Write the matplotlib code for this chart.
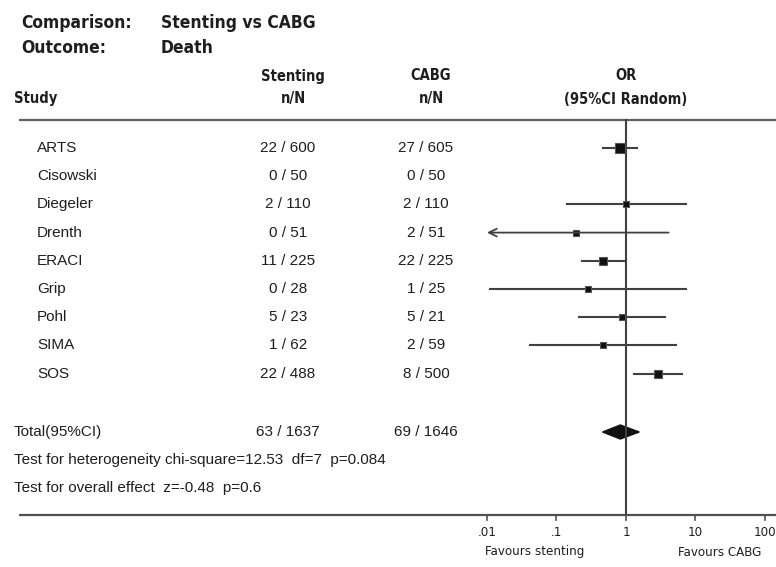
import numpy as np
import matplotlib.pyplot as plt
from matplotlib.transforms import blended_transform_factory
from matplotlib.patches import Polygon

## Data
studies = ["ARTS", "Cisowski", "Diegeler", "Drenth", "ERACI", "Grip", "Pohl", "SIMA", "SOS"]
stent_nN = ["22 / 600", "0 / 50", "2 / 110", "0 / 51", "11 / 225", "0 / 28", "5 / 23", "1 / 62", "22 / 488"]
cabg_nN = ["27 / 605", "0 / 50", "2 / 110", "2 / 51", "22 / 225", "1 / 25", "5 / 21", "2 / 59", "8 / 500"]

# Odds ratios with 95% CI (None = not estimable)
odds = [0.81, None, 1.00, 0.19, 0.47, 0.28, 0.87, 0.46, 2.90]
ci_low = [0.46, None, 0.14, 0.009, 0.23, 0.011, 0.21, 0.041, 1.32]
ci_high = [1.46, None, 7.2, 4.10, 1.00, 7.4, 3.70, 5.30, 6.40]
weights = [28.0, 0.0, 8.0, 7.5, 17.0, 7.5, 9.0, 6.0, 17.0]

total_or = 0.83
total_lo = 0.46
total_hi = 1.55
total_stent = "63 / 1637"
total_cabg = "69 / 1646"

heterogeneity = "Test for heterogeneity chi-square=12.53  df=7  p=0.084"
overall = "Test for overall effect  z=-0.48  p=0.6"

ticks = [0.01, 0.1, 1, 10, 100]
tick_labels = [".01", ".1", "1", "10", "100"]

## Layout
W, H = 776, 567
row_px = 28.2
first_px = 148

plt.rcParams['font.family'] = ['Liberation Sans', 'DejaVu Sans']
cond = dict(family='DejaVu Sans', stretch='condensed')

fig = plt.figure(figsize=(W / 100, H / 100), dpi=100)
ax = fig.add_axes([0, 0, 1, 1])
ax.set_xscale('log')
ax.set_xlim(10 ** (-2 - 487 / 69.5), 10 ** (2 + 11 / 69.5))
ax.set_ylim((H - first_px) / row_px, -first_px / row_px)
ax.axis('off')

tx = blended_transform_factory(ax.transAxes, ax.transData)
ink = "#1e1e1e"
line_c = "#404040"

def px(x):
    return x / W

def row(ypix):
    return (ypix - first_px) / row_px

# Title block
title = dict(transform=tx, weight='bold', fontsize=12.5, va='center', color=ink, **cond)
ax.text(px(21), row(23), "Comparison:", **title)
ax.text(px(161), row(23), "Stenting vs CABG", **title)
ax.text(px(21), row(48), "Outcome:", **title)
ax.text(px(161), row(48), "Death", **title)

# Column headers
hdr = dict(transform=tx, weight='bold', fontsize=10.5, va='center', color=ink, **cond)
ax.text(px(14), row(99), "Study", **hdr)
ax.text(px(293), row(76), "Stenting", ha='center', **hdr)
ax.text(px(293), row(99), "n/N", ha='center', **hdr)
ax.text(px(431), row(76), "CABG", ha='center', **hdr)
ax.text(px(431), row(99), "n/N", ha='center', **hdr)
ax.text(1, row(76), "OR", ha='center', va='center', weight='bold',
        fontsize=10.5, color=ink, **cond)
ax.text(1, row(99), "(95%CI Random)", ha='center', va='center',
        weight='bold', fontsize=10.5, color=ink, **cond)

# Separator lines
ax.plot([px(19), 1], [-1, -1], transform=tx, color="#606060", lw=1.6, solid_capstyle='butt')
ax.plot([px(19), 1], [13, 13], transform=tx, color="#505050", lw=1.6, solid_capstyle='butt')
ax.plot([1, 1], [-1, 13], color=line_c, lw=1.5)

body = dict(transform=tx, fontsize=11, va='center', color=ink)

# Study rows
for i, name in enumerate(studies):
    ax.text(px(37), i, name, **body)
    ax.text(px(288), i, stent_nN[i], ha='center', **body)
    ax.text(px(426), i, cabg_nN[i], ha='center', **body)
    if odds[i] is None:
        continue
    lo = max(ci_low[i], ticks[0])
    if ci_low[i] < ticks[0]:
        ax.annotate('', xy=(ticks[0], i), xytext=(ci_high[i], i),
                    arrowprops=dict(arrowstyle='->', color=line_c, lw=1.3,
                                    mutation_scale=14, shrinkA=0, shrinkB=0))
    else:
        ax.plot([lo, ci_high[i]], [i, i], color=line_c, lw=1.5)
    size = 2.05 * np.sqrt(weights[i]) * 72 / 100
    ax.plot(odds[i], i, marker='s', ms=size, mfc="#111111", mec="#555555", mew=0.8)

# Pooled estimate
y_tot = row(432)
ax.text(px(14), y_tot, "Total(95%CI)", **body)
ax.text(px(288), y_tot, total_stent, ha='center', **body)
ax.text(px(426), y_tot, total_cabg, ha='center', **body)
half = 7 / row_px
ax.add_patch(Polygon([(total_lo, y_tot), (total_or, y_tot - half), (total_hi, y_tot),
                      (total_or, y_tot + half)], closed=True, fc="#111111", ec="#111111"))

ax.text(px(14), row(460), heterogeneity, **body)
ax.text(px(14), row(488), overall, **body)

# Log axis ticks
for t, lab in zip(ticks, tick_labels):
    ax.plot([t, t], [13, 13 + 5 / row_px], color="#505050", lw=1.2)
    ax.text(t, row(532), lab, ha='center', va='center', fontsize=9.5, color=ink, **cond)

ax.text(px(535), row(552), "Favours stenting", ha='center', va='center', transform=tx,
        fontsize=9.5, color=ink, **cond)
ax.text(px(720), row(552), "Favours CABG", ha='center', va='center', transform=tx,
        fontsize=9.5, color=ink, **cond)

fig.savefig("out.png", dpi=100)
